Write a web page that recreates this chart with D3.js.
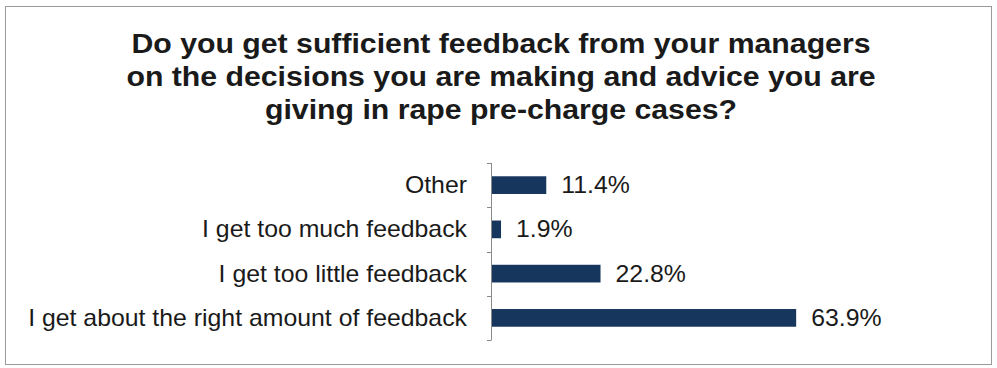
<!DOCTYPE html>
<html>
<head>
<meta charset="utf-8">
<script src="https://cdn.jsdelivr.net/npm/d3@7"></script>
<style>
  html, body { margin: 0; padding: 0; background: #fff; }
  svg { display: block; }
</style>
</head>
<body>
<svg id="chart" width="997" height="368"></svg>
<script>
// Survey responses, top to bottom
const categories = [
  "Other",
  "I get too much feedback",
  "I get too little feedback",
  "I get about the right amount of feedback"
];
const values = [11.4, 1.9, 22.8, 63.9];
const titleLines = [
  "Do you get sufficient feedback from your managers",
  "on the decisions you are making and advice you are",
  "giving in rape pre-charge cases?"
];

const svg = d3.select("#chart");
const font = "'Liberation Sans', Arial, sans-serif";
const ink = "#1a1a1a";
const stretch = 1.08; // the text is set slightly wide

// frame
svg.append("rect")
  .attr("x", 5.5).attr("y", 6.5)
  .attr("width", 986).attr("height", 358)
  .attr("fill", "#fff")
  .attr("stroke", "#9a9a9a").attr("stroke-width", 1);

// title
svg.append("g").selectAll("text")
  .data(titleLines)
  .join("text")
  .attr("transform", (d, i) => `translate(501,${53 + i * 33}) scale(${stretch},1)`)
  .attr("text-anchor", "middle")
  .attr("font-family", font)
  .attr("font-weight", "bold")
  .attr("font-size", 28)
  .attr("fill", ink)
  .text(d => d);

// plot area
const x0 = 491, yTop = 163, yBot = 340;
const x = d3.scaleLinear().domain([0, 100]).range([x0, x0 + 476]);
const y = d3.scaleBand().domain(categories).range([yTop, yBot]).paddingInner(0.6).paddingOuter(0.3);
const yOuter = d3.scaleBand().domain(categories).range([yTop, yBot]);

// bars
svg.append("g").selectAll("rect")
  .data(categories)
  .join("rect")
  .attr("x", x(0) + 1)
  .attr("y", d => y(d))
  .attr("width", (d, i) => x(values[i]) - x(0))
  .attr("height", y.bandwidth())
  .attr("fill", "#17365d");

// value labels
svg.append("g").selectAll("text")
  .data(categories)
  .join("text")
  .attr("transform", (d, i) => `translate(${x(values[i]) + 16},${y(d) + y.bandwidth() / 2}) scale(${stretch},1)`)
  .attr("dy", "0.35em")
  .attr("font-family", font)
  .attr("font-size", 23)
  .attr("fill", ink)
  .text((d, i) => values[i].toFixed(1) + "%");

// category axis with ticks between categories
const axisG = svg.append("g");
axisG.append("line")
  .attr("x1", x0 + 0.5).attr("x2", x0 + 0.5)
  .attr("y1", yTop).attr("y2", yBot)
  .attr("stroke", "#8a8a8a").attr("stroke-width", 1);
const boundaries = categories.map(c => yOuter(c)).concat([yBot]);
axisG.selectAll("line.tick")
  .data(boundaries)
  .join("line")
  .attr("class", "tick")
  .attr("x1", x0 - 4).attr("x2", x0 + 0.5)
  .attr("y1", d => Math.round(d) + 0.5).attr("y2", d => Math.round(d) + 0.5)
  .attr("stroke", "#8a8a8a").attr("stroke-width", 1);

axisG.selectAll("text")
  .data(categories)
  .join("text")
  .attr("transform", d => `translate(467,${yOuter(d) + yOuter.bandwidth() / 2}) scale(${stretch},1)`)
  .attr("dy", "0.35em")
  .attr("text-anchor", "end")
  .attr("font-family", font)
  .attr("font-size", 23)
  .attr("fill", ink)
  .text(d => d);
</script>
</body>
</html>
